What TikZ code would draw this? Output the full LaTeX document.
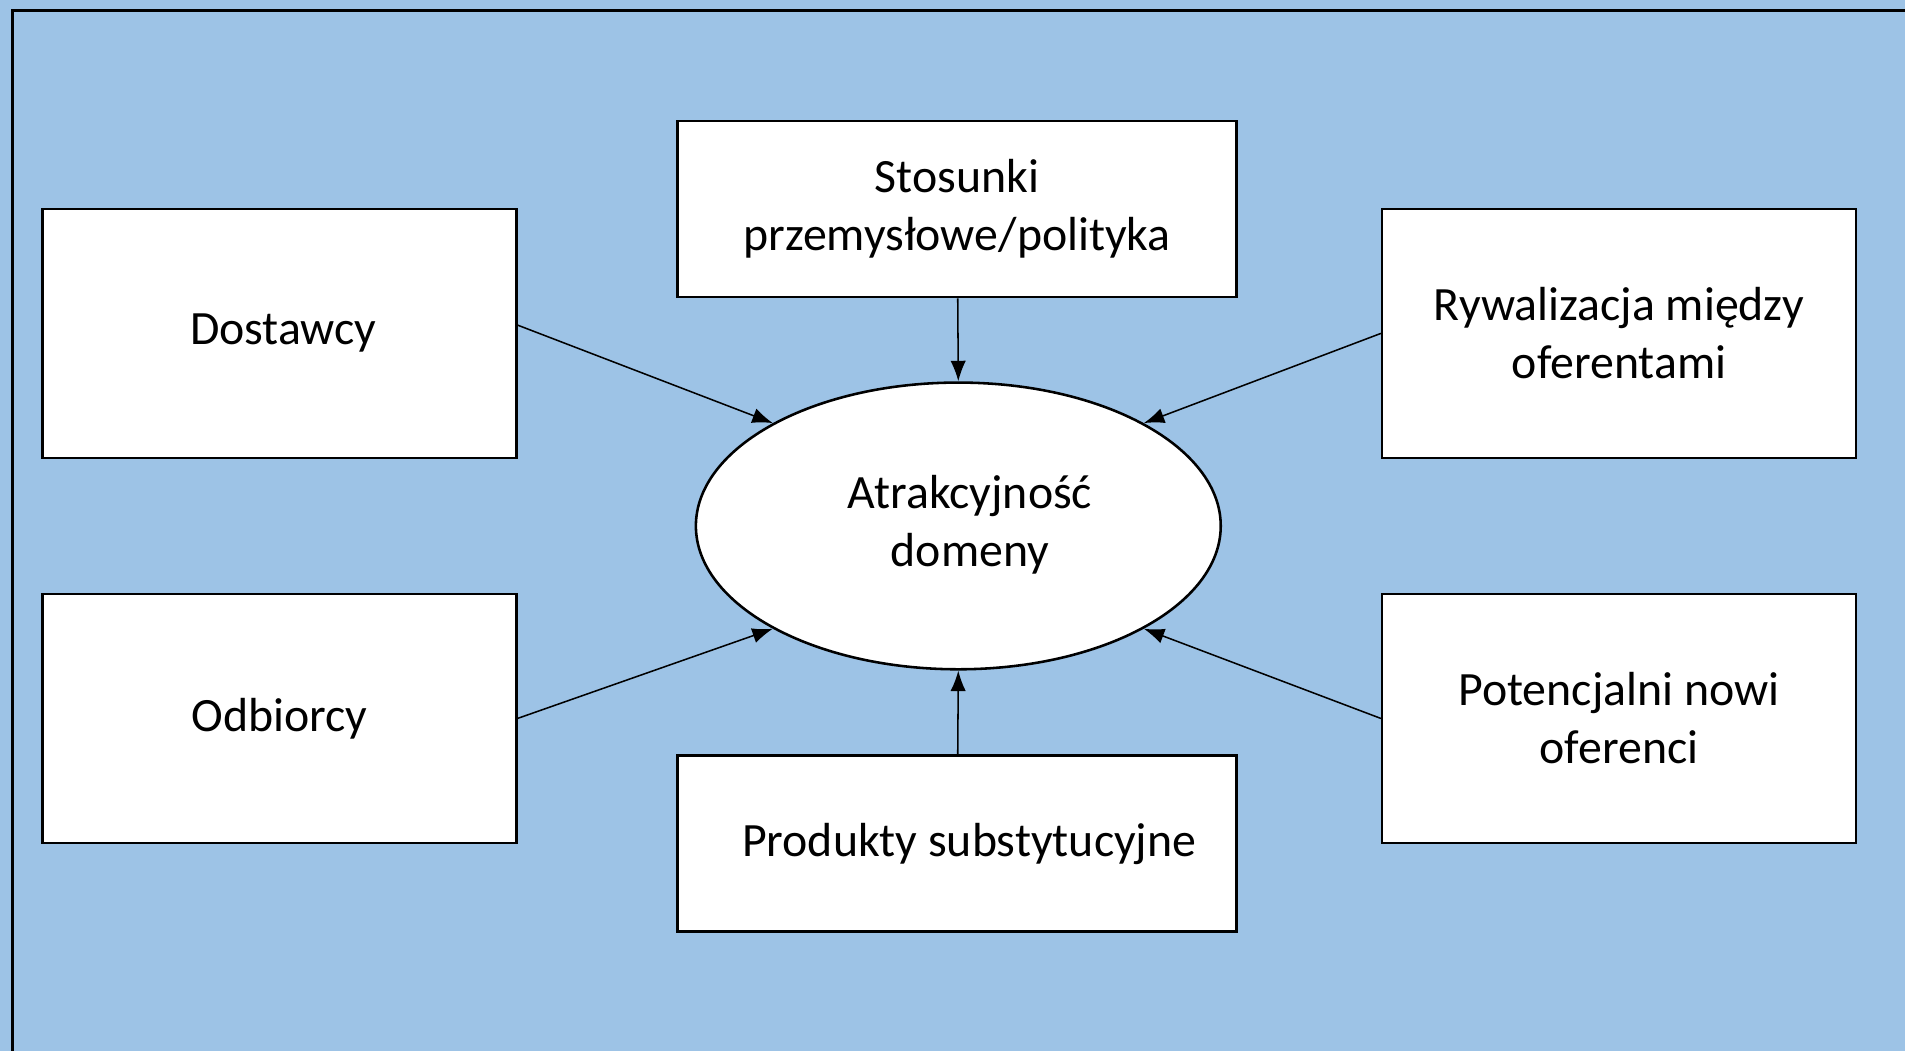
\documentclass[tikz,border=0pt]{standalone}
\usepackage{fontspec}
\setmainfont{Carlito}
\usetikzlibrary{arrows.meta,shapes.geometric}
\definecolor{tlo}{RGB}{157,195,230}

\begin{document}
\begin{tikzpicture}[x=0.0125cm,y=-0.0125cm,>={Latex[length=6pt,width=4.5pt]},line width=0.45pt]
            % tlo i ramka
            \fill[tlo] (0,0) rectangle (1568,865);
            \draw[line width=0.9pt] (1568,9) -- (10.5,9) -- (10.5,865);

            \begin{scope}[every node/.style={draw,fill=white,line width=0.75pt,align=center,font=\fontsize{14}{17}\selectfont,inner sep=0pt}]
                \node[minimum width=4.875cm,minimum height=2.5625cm] (dost) at (230,274.5) {\hspace*{0.08cm}Dostawcy};
                \node[minimum width=4.875cm,minimum height=2.5625cm] (odb) at (230,591.5) {Odbiorcy};
                \node[minimum width=5.75cm,minimum height=1.8125cm] (stos) at (788,172) {Stosunki\\przemysłowe/polityka};
                \node[minimum width=5.75cm,minimum height=1.8125cm] (prod) at (788,694.5) {\hspace*{0.25cm}Produkty substytucyjne};
                \node[minimum width=4.875cm,minimum height=2.5625cm] (ryw) at (1333,274.5) {Rywalizacja między\\oferentami};
                \node[minimum width=4.875cm,minimum height=2.5625cm] (pot) at (1333,591.5) {Potencjalni nowi\\oferenci};
                \node[ellipse,minimum width=5.4cm,minimum height=2.95cm] (atr) at (789,433) {\raisebox{0.08cm}{\hspace*{0.24cm}\begin{tabular}{@{}c@{}}Atrakcyjność\\domeny\end{tabular}}};
            \end{scope}

            \begin{scope}
                \path [->] (dost.2) edge node {} (atr.151);
                \path [->] (stos) edge node {} (atr.north);
                \path [->] (ryw.west) edge node {} (atr.29);
                \path [->] (odb.east) edge node {} (atr.209);
                \path [->] (prod) edge node {} (atr.south);
                \path [->] (pot.west) edge node {} (atr.331);
            \end{scope}
            \end{tikzpicture}
\end{document}
